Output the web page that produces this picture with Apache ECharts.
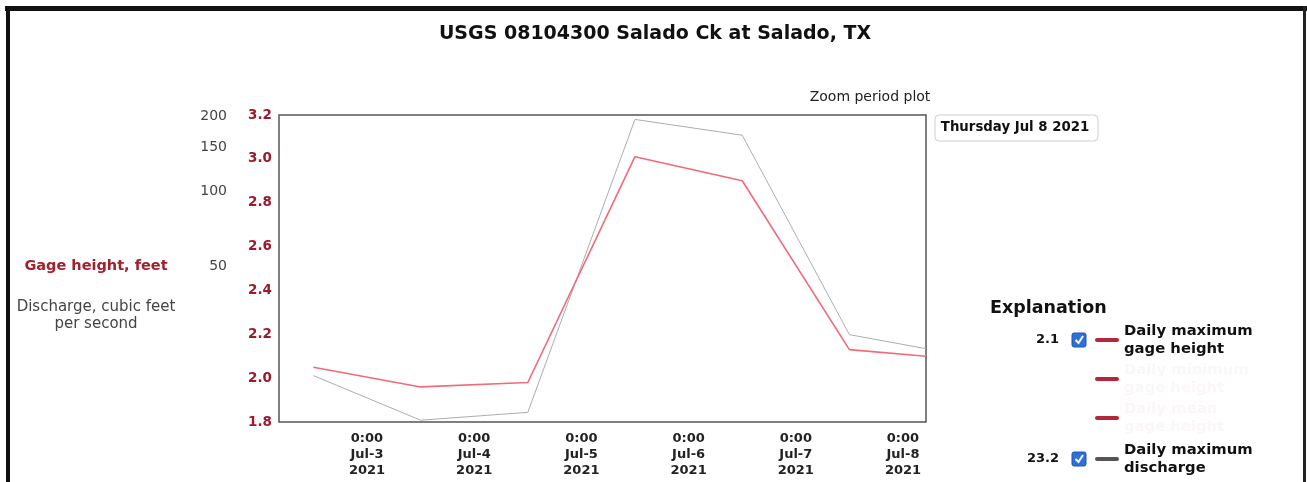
<!DOCTYPE html>
<html>
<head>
<meta charset="utf-8">
<script src="https://cdn.jsdelivr.net/npm/echarts@6/dist/echarts.min.js"></script>
<style>
html,body{margin:0;padding:0;background:#fff;}
#chart{width:1307px;height:482px;}
</style>
</head>
<body>
<div id="chart"></div>
<script>
// ---- data ----
const times = ['2021-07-02T12:00:00Z','2021-07-03T12:00:00Z','2021-07-04T12:00:00Z','2021-07-05T12:00:00Z','2021-07-06T12:00:00Z','2021-07-07T12:00:00Z','2021-07-08T05:09:00Z'];
const gageHeight = [2.05, 1.96, 1.98, 3.01, 2.90, 2.13, 2.10];
const discharge = [18.1, 12.0, 12.9, 192, 166, 26.4, 23.2];
const xTicks = ['2021-07-03T00:00:00Z','2021-07-04T00:00:00Z','2021-07-05T00:00:00Z','2021-07-06T00:00:00Z','2021-07-07T00:00:00Z','2021-07-08T00:00:00Z'];
const dischargeTicks = [50, 100, 150, 200];
const xMin = '2021-07-02T04:18:00Z';
const xMax = '2021-07-08T05:09:00Z';
const titleText = 'USGS 08104300 Salado Ck at Salado, TX';
const currentDate = 'Thursday Jul 8 2021';

const FONT = 'DejaVu Sans';
const months = ['Jan','Feb','Mar','Apr','May','Jun','Jul','Aug','Sep','Oct','Nov','Dec'];
const ms = s => Date.parse(s);
const chart = echarts.init(document.getElementById('chart'), null, {renderer: 'canvas'});

chart.setOption({
  animation: false,
  backgroundColor: '#fff',
  title: {
    text: titleText, left: 650, top: 20, textAlign: 'center',
    textStyle: {fontFamily: FONT, fontSize: 19, fontWeight: 'bold', color: '#111'}
  },
  grid: {left: 279, right: 381, top: 115, bottom: 60, show: true, borderColor: '#555', borderWidth: 1.5, backgroundColor: 'transparent'},
  xAxis: {
    type: 'value', min: ms(xMin), max: ms(xMax),
    axisLine: {show: false}, axisTick: {show: false}, splitLine: {show: false},
    axisLabel: {
      customValues: xTicks.map(ms),
      hideOverlap: false,
      margin: 9, fontFamily: FONT, fontSize: 13, fontWeight: 'bold', color: '#222', lineHeight: 16,
      formatter: function (v) {
        const d = new Date(v);
        return d.getUTCHours() + ':' + String(d.getUTCMinutes()).padStart(2, '0') + '\n' +
          months[d.getUTCMonth()] + '-' + d.getUTCDate() + '\n' + d.getUTCFullYear();
      }
    }
  },
  yAxis: [
    {
      type: 'value', min: 1.8, max: 3.2, interval: 0.2, position: 'left',
      axisLine: {show: false}, axisTick: {show: false}, splitLine: {show: false},
      axisLabel: {margin: 7, fontFamily: FONT, fontSize: 13.5, fontWeight: 'bold', color: '#9b1b2e',
        formatter: v => v.toFixed(1)}
    },
    {
      type: 'log', logBase: 10, min: 11.8, max: 200, position: 'left',
      axisLine: {show: false}, axisTick: {show: false}, splitLine: {show: false},
      axisLabel: {show: false}
    }
  ],
  series: [
    {
      name: 'Daily maximum discharge', type: 'line', yAxisIndex: 1, symbol: 'none',
      data: times.map((t, i) => [ms(t), discharge[i]]),
      lineStyle: {color: '#a9afb0', width: 1}, z: 2
    },
    {
      name: 'Daily maximum gage height', type: 'line', yAxisIndex: 0, symbol: 'none',
      data: times.map((t, i) => [ms(t), gageHeight[i]]),
      lineStyle: {color: '#f26a78', width: 1.6}, z: 3
    }
  ]
});

// discharge (log) axis labels placed via the axis scale
const g = [];
dischargeTicks.forEach(v => {
  const y = chart.convertToPixel({yAxisIndex: 1}, v);
  g.push({type: 'text', x: 227, y: y + 1, style: {text: String(v), align: 'right', verticalAlign: 'middle',
    font: '14px "' + FONT + '"', fill: '#444'}});
});

// axis titles
g.push({type: 'text', x: 96, y: 266, style: {text: 'Gage height, feet', align: 'center', verticalAlign: 'middle',
  font: 'bold 14.5px "' + FONT + '"', fill: '#a3202f'}});
g.push({type: 'text', x: 96, y: 316, style: {text: 'Discharge, cubic feet\nper second', align: 'center', verticalAlign: 'middle',
  font: '15px "' + FONT + '"', fill: '#444', lineHeight: 17}});

// zoom period text and date box
g.push({type: 'text', x: 870, y: 97, style: {text: 'Zoom period plot', align: 'center', verticalAlign: 'middle',
  font: '14px "' + FONT + '"', fill: '#222'}});
g.push({type: 'rect', shape: {x: 935, y: 115, width: 163, height: 26, r: 4}, style: {fill: '#fff', stroke: '#cfcfcf', lineWidth: 1}});
g.push({type: 'text', x: 1015, y: 128, style: {text: currentDate, align: 'center', verticalAlign: 'middle',
  font: 'bold 13.3px "' + FONT + '"', fill: '#111'}});

// explanation panel
g.push({type: 'text', x: 990, y: 308, style: {text: 'Explanation', align: 'left', verticalAlign: 'middle',
  font: 'bold 17.5px "' + FONT + '"', fill: '#111'}});
function checkbox(y) {
  g.push({type: 'rect', shape: {x: 1072, y: y - 7, width: 14, height: 14, r: 2}, style: {fill: '#2f6fd8', stroke: '#1d57b8', lineWidth: 1}});
  g.push({type: 'polyline', shape: {points: [[1075.5, y], [1078.5, y + 3], [1083, y - 4]]}, style: {stroke: '#fff', lineWidth: 2, fill: null}});
}
function dash(y, color) {
  g.push({type: 'line', shape: {x1: 1097, y1: y, x2: 1117, y2: y}, style: {stroke: color, lineWidth: 4, lineCap: 'round'}});
}
const lastGage = gageHeight[gageHeight.length - 1];
const lastQ = discharge[discharge.length - 1];
g.push({type: 'text', x: 1059, y: 340, style: {text: lastGage.toFixed(1), align: 'right', verticalAlign: 'middle', font: 'bold 13px "' + FONT + '"', fill: '#111'}});
checkbox(340); dash(340, '#b3283d');
g.push({type: 'text', x: 1124, y: 340, style: {text: 'Daily maximum\ngage height', align: 'left', verticalAlign: 'middle', font: 'bold 14.8px "' + FONT + '"', fill: '#111', lineHeight: 18}});
dash(379, '#b3283d');
g.push({type: 'text', x: 1124, y: 379, style: {text: 'Daily minimum\ngage height', align: 'left', verticalAlign: 'middle', font: 'bold 14.8px "' + FONT + '"', fill: '#fbf6f9', lineHeight: 18}});
dash(418, '#b3283d');
g.push({type: 'text', x: 1124, y: 418, style: {text: 'Daily mean\ngage height', align: 'left', verticalAlign: 'middle', font: 'bold 14.8px "' + FONT + '"', fill: '#fbf6f9', lineHeight: 18}});
g.push({type: 'text', x: 1059, y: 459, style: {text: lastQ.toFixed(1), align: 'right', verticalAlign: 'middle', font: 'bold 13px "' + FONT + '"', fill: '#111'}});
checkbox(459); dash(459, '#555');
g.push({type: 'text', x: 1124, y: 459, style: {text: 'Daily maximum\ndischarge', align: 'left', verticalAlign: 'middle', font: 'bold 14.8px "' + FONT + '"', fill: '#111', lineHeight: 18}});

// scan frame borders
g.push({type: 'rect', shape: {x: 5, y: 6, width: 1302, height: 5}, style: {fill: '#111'}});
g.push({type: 'rect', shape: {x: 6, y: 6, width: 4, height: 476}, style: {fill: '#111'}});
g.push({type: 'rect', shape: {x: 1303, y: 6, width: 3, height: 476}, style: {fill: '#222'}});

chart.setOption({graphic: g});
</script>
</body>
</html>
